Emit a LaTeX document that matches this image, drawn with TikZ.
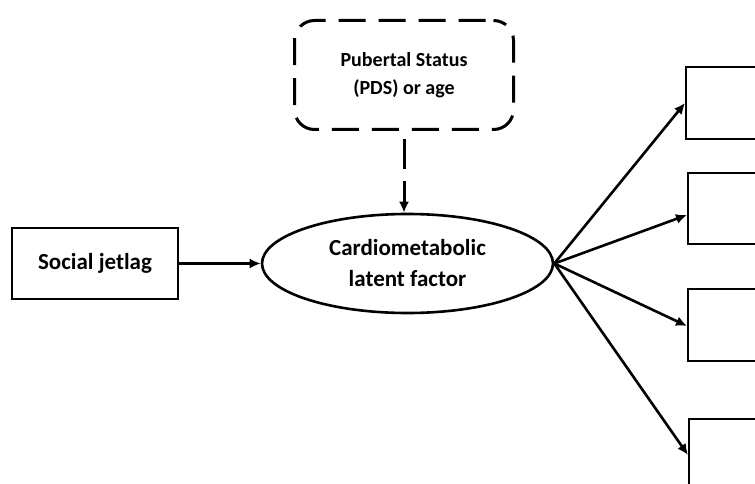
\documentclass[tikz,border=0pt]{standalone}
\usepackage{fontspec}
\setmainfont{Carlito}
\usetikzlibrary{arrows.meta,shapes.geometric}
\begin{document}
\begin{tikzpicture}[x=1pt,y=-1pt,
  box/.style={draw, line width=1.7pt, rectangle, inner sep=0pt},
  latent/.style={draw, line width=2.6pt, ellipse, inner sep=0pt, align=center, font=\bfseries\fontsize{23}{31}\selectfont},
  mod/.style={draw, line width=3pt, rounded corners=20pt, dash pattern=on 27pt off 13pt, dash phase=-8pt, inner sep=0pt, align=center, font=\bfseries\fontsize{20}{28}\selectfont},
  arr/.style={line width=2.6pt, -{Latex[length=11pt,width=10pt]}},
  darr/.style={line width=3pt, dash pattern=on 30pt off 12pt, -{Latex[length=11pt,width=10pt]}}
]
\clip (0,0) rectangle (755,484);
\fill[white] (0,0) rectangle (755,484);
\node[box, minimum width=166pt, minimum height=71pt, font=\bfseries\fontsize{23}{26}\selectfont] (sj) at (95,263.5) {Social jetlag};
\node[latent, minimum width=291pt, minimum height=99pt] (cf) at (407.5,263.5) {Cardiometabolic\\latent factor};
\node[mod, minimum width=219pt, minimum height=109pt] (pds) at (404,75) {Pubertal Status\\(PDS) or age};
\node[box, minimum width=120pt, minimum height=72pt, anchor=west] (r1) at (685,103) {};
\node[box, minimum width=120pt, minimum height=71pt, anchor=west] (r2) at (687,208.5) {};
\node[box, minimum width=120pt, minimum height=72pt, anchor=west] (r3) at (687,325) {};
\node[box, minimum width=120pt, minimum height=120pt, anchor=north west] (r4) at (688,418) {};
\coordinate (r2in) at (687,215);
\coordinate (r3in) at (687,326);
\coordinate (r4in) at (688,455);
\draw[arr] (sj.east) -- (cf.west);
\draw[darr] ([yshift=-8pt]pds.south) -- (pds.south |- cf.north);
\draw[arr] (cf.east) -- (r1.west);
\draw[arr] (cf.east) -- (r2in);
\draw[arr] (cf.east) -- (r3in);
\draw[arr] (cf.east) -- (r4in);
\end{tikzpicture}
\end{document}
